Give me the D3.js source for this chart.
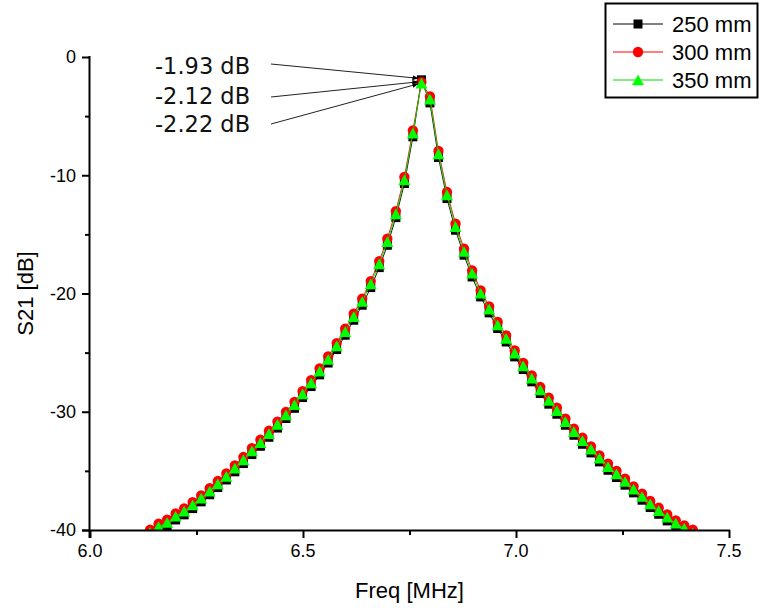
<!DOCTYPE html>
<html>
<head>
<meta charset="utf-8">
<script src="https://cdn.jsdelivr.net/npm/d3@7"></script>
<style>
  html, body { margin: 0; padding: 0; background: #fff; }
  svg { display: block; }
</style>
</head>
<body>
<script>
// ---------- data ----------
const freq = [6.141, 6.161, 6.181, 6.201, 6.221, 6.241, 6.261, 6.281, 6.300, 6.320, 6.340,
  6.360, 6.380, 6.400, 6.420, 6.440, 6.460, 6.480, 6.499, 6.519, 6.539,
  6.559, 6.579, 6.599, 6.619, 6.639, 6.659, 6.679, 6.698, 6.718, 6.738,
  6.758, 6.778, 6.798, 6.818, 6.838, 6.858, 6.878, 6.897, 6.917, 6.937,
  6.957, 6.977, 6.997, 7.017, 7.037, 7.057, 7.077, 7.096, 7.116, 7.136,
  7.156, 7.176, 7.196, 7.216, 7.236, 7.256, 7.276, 7.296, 7.315, 7.335,
  7.355, 7.375, 7.395, 7.415];

const s250 = [-40.50, -40.02, -39.68, -39.15, -38.72, -38.19, -37.62, -37.02, -36.41, -35.77, -35.08,
  -34.38, -33.62, -32.92, -32.16, -31.38, -30.57, -29.71, -28.80, -27.87, -26.88,
  -25.88, -24.74, -23.53, -22.26, -20.99, -19.50, -17.81, -15.92, -13.58, -10.70,
  -6.75, -1.93, -3.88, -8.50, -11.97, -14.65, -16.76, -18.60, -20.29, -21.64,
  -22.96, -24.10, -25.36, -26.43, -27.47, -28.46, -29.36, -30.21, -31.14, -31.99,
  -32.75, -33.48, -34.24, -34.95, -35.56, -36.21, -36.86, -37.48, -38.10, -38.67,
  -39.23, -39.73, -40.16, -40.55];

const s300 = [-39.97, -39.47, -39.13, -38.60, -38.17, -37.64, -37.07, -36.47, -35.86, -35.22, -34.53,
  -33.83, -33.07, -32.37, -31.61, -30.83, -30.02, -29.16, -28.25, -27.32, -26.33,
  -25.33, -24.19, -22.98, -21.71, -20.44, -18.95, -17.26, -15.37, -13.03, -10.15,
  -6.20, -2.12, -3.33, -7.95, -11.42, -14.10, -16.21, -18.05, -19.74, -21.09,
  -22.41, -23.55, -24.81, -25.88, -26.92, -27.91, -28.81, -29.66, -30.59, -31.44,
  -32.20, -32.93, -33.69, -34.40, -35.01, -35.66, -36.31, -36.93, -37.55, -38.12,
  -38.68, -39.18, -39.61, -39.98];

const s350 = [-40.22, -39.72, -39.38, -38.85, -38.42, -37.89, -37.32, -36.72, -36.11, -35.47, -34.78,
  -34.08, -33.32, -32.62, -31.86, -31.08, -30.27, -29.41, -28.50, -27.57, -26.58,
  -25.58, -24.44, -23.23, -21.96, -20.69, -19.20, -17.51, -15.62, -13.28, -10.40,
  -6.45, -2.22, -3.58, -8.20, -11.67, -14.35, -16.46, -18.30, -19.99, -21.34,
  -22.66, -23.80, -25.06, -26.13, -27.17, -28.16, -29.06, -29.91, -30.84, -31.69,
  -32.45, -33.18, -33.94, -34.65, -35.26, -35.91, -36.56, -37.18, -37.80, -38.37,
  -38.93, -39.43, -39.86, -40.28];

const seriesNames = ["250 mm", "300 mm", "350 mm"];
const xTicks = [6.0, 6.5, 7.0, 7.5];
const xTickLabels = ["6.0", "6.5", "7.0", "7.5"];
const yTicks = [0, -10, -20, -30, -40];
const yTickLabels = ["0", "-10", "-20", "-30", "-40"];
const peakLabels = ["-1.93 dB", "-2.12 dB", "-2.22 dB"];
const peakIndex = 32;

// ---------- layout ----------
const W = 762, H = 609;
const M = { left: 90, right: 33, top: 57, bottom: 79 };
const svg = d3.select("body").append("svg").attr("width", W).attr("height", H);

const x = d3.scaleLinear().domain([6.0, 7.5]).range([M.left, W - M.right]);
const y = d3.scaleLinear().domain([-40, 0]).range([H - M.bottom, M.top]);

const styles = [
  { color: "#000000", line: "#000000", shape: "square" },
  { color: "#ff0000", line: "#ff0000", shape: "circle" },
  { color: "#00ff00", line: "#00dd00", shape: "triangle" }
];
const seriesData = [s250, s300, s350];

function markerPath(shape) {
  if (shape === "square") return "M-4.5,-4.5H4.5V4.5H-4.5Z";
  if (shape === "circle") return d3.symbol(d3.symbolCircle, 84)();
  return "M0,-5.5L6,5.2L-6,5.2Z";
}

svg.append("defs").append("clipPath").attr("id", "plotclip")
  .append("rect")
  .attr("x", M.left).attr("y", M.top - 10)
  .attr("width", W - M.right - M.left + 10)
  .attr("height", (H - M.bottom) - (M.top - 10));

const plot = svg.append("g").attr("clip-path", "url(#plotclip)");

seriesData.forEach((vals, si) => {
  const pts = vals.map((v, i) => [freq[i], v]);
  const st = styles[si];
  plot.append("path")
    .datum(pts)
    .attr("fill", "none")
    .attr("stroke", st.line)
    .attr("stroke-width", 0.9)
    .attr("d", d3.line().x(d => x(d[0])).y(d => y(d[1])));
  plot.append("g").selectAll("path")
    .data(pts)
    .join("path")
    .attr("transform", d => `translate(${x(d[0])},${y(d[1])})`)
    .attr("d", markerPath(st.shape))
    .attr("fill", st.color);
});

// ---------- axes ----------
const axisFont = "'Liberation Sans', Arial, sans-serif";

const xAxisG = svg.append("g").attr("transform", `translate(0,${H - M.bottom})`);
xAxisG.call(d3.axisBottom(x).tickValues(d3.range(6.0, 7.5001, 0.25)).tickSize(5).tickFormat(""));
xAxisG.call(g => g.selectAll(".tick").filter(d => xTicks.some(t => Math.abs(t - d) < 1e-6)).select("line").attr("y2", 8));
xAxisG.select(".domain").attr("d", `M${M.left - 8},0.5H${W - M.right + 1}`);
xAxisG.selectAll("line, path").attr("stroke", "#000").attr("stroke-width", 2);

xTicks.forEach((t, i) => {
  svg.append("text")
    .attr("x", x(t)).attr("y", H - M.bottom + 27)
    .attr("text-anchor", "middle")
    .attr("font-family", axisFont).attr("font-size", 18)
    .attr("fill", "#000")
    .text(xTickLabels[i]);
});

const yAxisG = svg.append("g").attr("transform", `translate(${M.left},0)`);
yAxisG.call(d3.axisLeft(y).tickValues(d3.range(-40, 0.001, 5)).tickSize(5).tickFormat(""));
yAxisG.call(g => g.selectAll(".tick").filter(d => yTicks.some(t => Math.abs(t - d) < 1e-6)).select("line").attr("x2", -8));
yAxisG.select(".domain").attr("d", `M-0.5,${M.top - 1}V${H - M.bottom + 8}`);
yAxisG.selectAll("line, path").attr("stroke", "#000").attr("stroke-width", 2);

yTicks.forEach((t, i) => {
  svg.append("text")
    .attr("x", M.left - 14).attr("y", y(t)).attr("dy", "0.35em")
    .attr("text-anchor", "end")
    .attr("font-family", axisFont).attr("font-size", 18)
    .attr("fill", "#000")
    .text(yTickLabels[i]);
});

svg.append("text")
  .attr("x", (x(6.0) + x(7.5)) / 2).attr("y", H - 11)
  .attr("text-anchor", "middle")
  .attr("font-family", axisFont).attr("font-size", 22)
  .text("Freq [MHz]");

svg.append("text")
  .attr("transform", `translate(33,${(y(0) + y(-40)) / 2}) rotate(-90)`)
  .attr("text-anchor", "middle")
  .attr("font-family", axisFont).attr("font-size", 22)
  .text("S21 [dB]");

// ---------- peak annotations ----------
svg.append("defs").append("marker")
  .attr("id", "arrowhead")
  .attr("viewBox", "0 0 10 10")
  .attr("refX", 10).attr("refY", 5)
  .attr("markerWidth", 6).attr("markerHeight", 6)
  .attr("orient", "auto")
  .append("path").attr("d", "M0,1L10,5L0,9Z").attr("fill", "#000");

const peakX = x(freq[peakIndex]);
const annTextY = [74, 104, 132];
const annLineStartY = [64, 97, 124];
const annEndDy = [-1.5, 2, 4];
peakLabels.forEach((lab, i) => {
  svg.append("text")
    .attr("x", 155).attr("y", annTextY[i])
    .attr("font-family", "'DejaVu Sans', 'Open Sans', sans-serif")
    .attr("font-size", 22.5)
    .attr("fill", "#111")
    .text(lab);
  svg.append("line")
    .attr("x1", 271).attr("y1", annLineStartY[i])
    .attr("x2", peakX - 3).attr("y2", y(-1.93) + annEndDy[i])
    .attr("stroke", "#222").attr("stroke-width", 1)
    .attr("marker-end", "url(#arrowhead)");
});

// ---------- legend ----------
const lg = svg.append("g");
lg.append("rect")
  .attr("x", 605.5).attr("y", 3.5).attr("width", 152).attr("height", 94)
  .attr("fill", "#fff").attr("stroke", "#000").attr("stroke-width", 2);
const rowY = [24, 52, 80];
seriesNames.forEach((name, i) => {
  const st = styles[i];
  lg.append("line")
    .attr("x1", 613).attr("x2", 663).attr("y1", rowY[i]).attr("y2", rowY[i])
    .attr("stroke", st.line).attr("stroke-width", 1);
  lg.append("path")
    .attr("transform", `translate(638,${rowY[i]})`)
    .attr("d", markerPath(st.shape))
    .attr("fill", st.color);
  lg.append("text")
    .attr("x", 672).attr("y", rowY[i]).attr("dy", "0.36em")
    .attr("font-family", axisFont).attr("font-size", 22)
    .attr("fill", "#000")
    .text(name);
});
</script>
</body>
</html>
